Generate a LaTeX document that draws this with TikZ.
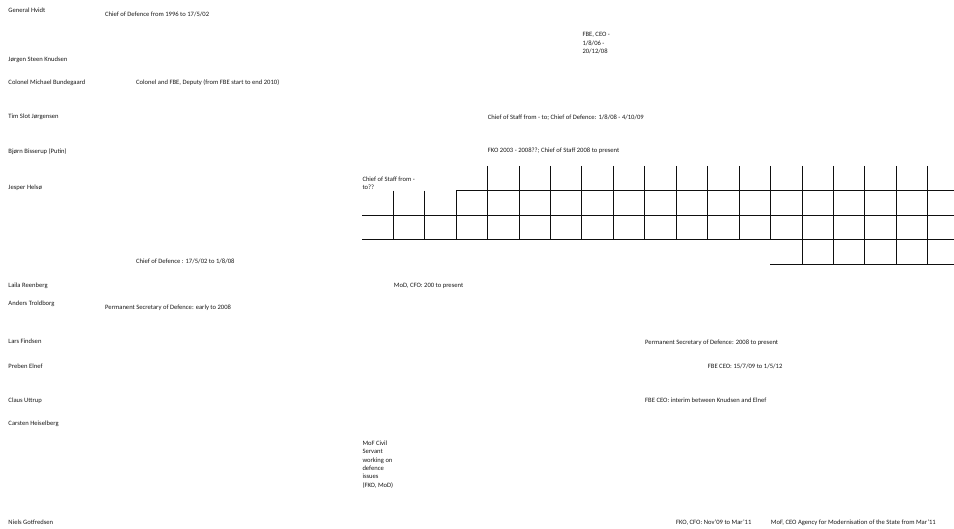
\documentclass[tikz,border=0pt]{standalone}
\usepackage{fontspec}
\setmainfont{Carlito}
\usepackage{xcolor}
\definecolor{orgtext}{RGB}{25, 25, 25}
\definecolor{orgline}{RGB}{15, 15, 15}
\usetikzlibrary{calc}

\begin{document}
\begin{tikzpicture}[x=1pt, y=-1pt,
    lbl/.style={anchor=base west, inner sep=0pt, align=left,
        font=\fontsize{6.6}{8.3}\selectfont, text=orgtext},
    gridline/.style={orgline, line width=1pt}]

\useasboundingbox (0,0) rectangle (954,529);

% === Nombres (columna izquierda) ===
\node[lbl] (hvidt)      at (8.3, 12.3)  {General Hvidt};
\node[lbl] (knudsen)    at (8.3, 61.3)  {Jørgen Steen Knudsen};
\node[lbl] (bundegaard) at (8.3, 84.6)  {Colonel Michael Bundegaard};
\node[lbl] (joergensen) at (8.3, 119)   {Tim Slot Jørgensen};
\node[lbl] (bisserup)   at (8.3, 154)   {Bjørn Bisserup (Putin)};
\node[lbl] (helsoe)     at (8.3, 189.6) {Jesper Helsø};
\node[lbl] (reenberg)   at (8.3, 287.3) {Laila Reenberg};
\node[lbl] (troldborg)  at (8.3, 306)   {Anders Troldborg};
\node[lbl] (findsen)    at (8.3, 344)   {Lars Findsen};
\node[lbl] (elnef)      at (8.3, 368.3) {Preben Elnef};
\node[lbl] (uttrup)     at (8.3, 402.3) {Claus Uttrup};
\node[lbl] (heiselberg) at (8.3, 425.3) {Carsten Heiselberg};
\node[lbl] (gotfredsen) at (8.3, 524.3) {Niels Gotfredsen};

% === Cargos y fechas ===
% (en los nodos de varias lineas la base queda en la ultima linea)
\node[lbl] (hvidtRole)      at (105, 16.3)    {Chief of Defence from 1996 to 17/5/02};
\node[lbl] (knudsenRole)    at (582.3, 53.5)  {FBE, CEO -\\1/8/06 -\\20/12/08};
\node[lbl] (bundegaardRole) at (136, 84.6)    {Colonel and FBE, Deputy (from FBE start to end 2010)};
\node[lbl] (joergensenRole) at (487.7, 119.6) {Chief of Staff from - to; Chief of Defence:  1/8/08 - 4/10/09};
\node[lbl] (bisserupRole)   at (487.7, 153)   {FKO 2003 - 2008??; Chief of Staff 2008 to present};
\node[lbl] (helsoeStaff)    at (362.3, 190)   {Chief of Staff from -\\to??};
\node[lbl] (helsoeRole)     at (136, 263.3)   {Chief of Defence : 17/5/02 to 1/8/08};
\node[lbl] (reenbergRole)   at (393.7, 287.3) {MoD, CFO: 200 to present};
\node[lbl] (troldborgRole)  at (105, 310)     {Permanent Secretary of Defence: early to 2008};
\node[lbl] (findsenRole)    at (645, 344.6)   {Permanent Secretary of Defence:  2008 to present};
\node[lbl] (elnefRole)      at (707.7, 368.3) {FBE CEO: 15/7/09 to 1/5/12};
\node[lbl] (uttrupRole)     at (645, 402.3)   {FBE CEO: interim between Knudsen and Elnef};
\node[lbl] (heiselbergRole) at (362.3, 487)   {MoF Civil\\Servant\\working on\\defence\\issues\\(FKO, MoD)};
\node[lbl] (gotfredsenCFO)  at (676, 524.3)   {FKO, CFO: Nov'09 to Mar'11};
\node[lbl] (gotfredsenCEO)  at (770.7, 524.3) {MoF, CEO Agency for Modernisation of the State from Mar'11};

% === Rejilla escalonada ===
% Lineas horizontales
\draw[gridline] (456.1, 190.7) -- (954, 190.7);
\draw[gridline] (362.3, 215.3) -- (954, 215.3);
\draw[gridline] (362.3, 240)   -- (954, 240);
\draw[gridline] (770.1, 265)   -- (954, 265);

% Verticales cortas (primeras tres columnas)
\draw[gridline]
    (393.2, 190.7) -- (393.2, 240)
    (424.7, 190.7) -- (424.7, 240)
    (456.1, 190.7) -- (456.1, 240);

% Verticales altas hasta la fila 240
\draw[gridline]
    (487.6, 166) -- (487.6, 240)
    (519.0, 166) -- (519.0, 240)
    (550.5, 166) -- (550.5, 240)
    (581.9, 166) -- (581.9, 240)
    (613.4, 166) -- (613.4, 240)
    (644.8, 166) -- (644.8, 240)
    (676.2, 166) -- (676.2, 240)
    (707.7, 166) -- (707.7, 240)
    (739.1, 166) -- (739.1, 240)
    (770.6, 166) -- (770.6, 240);

% Verticales altas hasta la fila 265
\draw[gridline]
    (802.0, 166) -- (802.0, 265)
    (833.5, 166) -- (833.5, 265)
    (864.9, 166) -- (864.9, 265)
    (896.4, 166) -- (896.4, 265)
    (927.8, 166) -- (927.8, 265);

\end{tikzpicture}
\end{document}
